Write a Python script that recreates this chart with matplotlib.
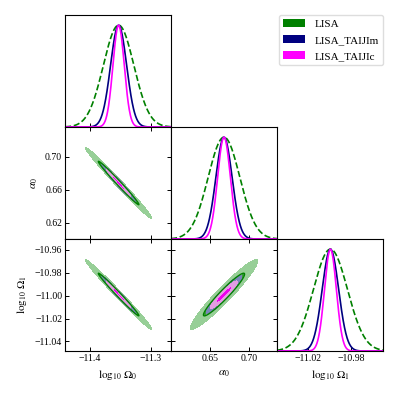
import numpy as np
import matplotlib
matplotlib.use('Agg')
import matplotlib.pyplot as plt
from matplotlib.patches import Patch

plt.rcParams['font.family'] = ['Liberation Serif', 'DejaVu Serif']
plt.rcParams['mathtext.fontset'] = 'stix'

# parameters and plot ranges
labels = [r'$\log_{10}\,\Omega_0$', r'$\alpha_0$', r'$\log_{10}\,\Omega_1$']
limits = [(-11.441, -11.267), (0.600, 0.736), (-11.0484, -10.9504)]
xticks = [[-11.4, -11.3], [0.65, 0.70], [-11.02, -10.98]]
yticks = [None, [0.62, 0.66, 0.70], [-10.96, -10.98, -11.00, -11.02, -11.04]]
xticklabels = [['−11.4', '−11.3'], ['0.65', '0.70'], ['−11.02', '−10.98']]
yticklabels = [None, ['0.62', '0.66', '0.70'], ['−10.96', '−10.98', '−11.00', '−11.02', '−11.04']]

names = ['LISA', 'LISA_TAIJIm', 'LISA_TAIJIc']
line_colors = ['#008000', '#000080', '#ff00ff']
line_styles = ['--', '-', '-']
fill_outer = ['#97cf97', '#7a86b8', '#e49ce4']
fill_inner = ['#3d9b3d', '#4a58a4', '#ee00ee']

centers = [-11.353, 0.668, -10.999]
sig1d = {
    'LISA': [0.0250, 0.0203, 0.0157],
    'LISA_TAIJIm': [0.0132, 0.0104, 0.0076],
    'LISA_TAIJIc': [0.0093, 0.0082, 0.0055],
}
sig2d = {
    'LISA': [0.0220, 0.0174, 0.0123],
    'LISA_TAIJIm': [0.0116, 0.0092, 0.0067],
    'LISA_TAIJIc': [0.0082, 0.0070, 0.0048],
}
# correlation coefficients for the three 2D panels
corr = {
    'LISA': {(1, 0): -0.990, (2, 0): -0.990, (2, 1): 0.955},
    'LISA_TAIJIm': {(1, 0): -0.980, (2, 0): -0.980, (2, 1): 0.94},
    'LISA_TAIJIc': {(1, 0): -0.975, (2, 0): -0.975, (2, 1): 0.93},
}

chi2_levels = [0, 2.30, 6.18]

fig = plt.figure(figsize=(3.99, 3.99), dpi=100)
W = 399.0
col_left = [65, 171, 277]
row_top = [15, 127, 239]
aw, ah = 106, 112

def make_ax(r, c):
    return fig.add_axes([col_left[c] / W, 1 - (row_top[r] + ah) / W, aw / W, ah / W])

for r in range(3):
    for c in range(r + 1):
        ax = make_ax(r, c)
        ax.tick_params(direction='in', length=3, width=0.7, labelsize=7, pad=2)
        if r == c:
            x = np.linspace(limits[c][0], limits[c][1], 400)
            for k, n in enumerate(names):
                s = sig1d[n][c]
                y = np.exp(-0.5 * ((x - centers[c]) / s) ** 2)
                ax.plot(x, y, color=line_colors[k], ls=line_styles[k], lw=1.2)
            ax.set_ylim(0, 1.1)
            ax.set_yticks([])
            ax.tick_params(top=False, right=False)
        else:
            x = np.linspace(limits[c][0], limits[c][1], 400)
            y = np.linspace(limits[r][0], limits[r][1], 400)
            X, Y = np.meshgrid(x, y)
            for k, n in enumerate(names):
                rho = corr[n][(r, c)]
                sx, sy = sig2d[n][c], sig2d[n][r]
                dx = (X - centers[c]) / sx
                dy = (Y - centers[r]) / sy
                d2 = (dx ** 2 - 2 * rho * dx * dy + dy ** 2) / (1 - rho ** 2)
                ax.contourf(X, Y, d2, levels=chi2_levels, colors=[fill_inner[k], fill_outer[k]])
                if k == 0:
                    ax.contour(X, Y, d2, levels=[2.30], colors=[line_colors[k]], linewidths=1.0)
            ax.set_ylim(limits[r])
            ax.set_yticks(yticks[r])
            ax.tick_params(top=True, right=True)
            if c == 0:
                ax.set_yticklabels(yticklabels[r])
                ax.set_ylabel(labels[r], fontsize=8)
            else:
                ax.set_yticklabels([])
        ax.set_xlim(limits[c])
        ax.set_xticks(xticks[c])
        if r == 2:
            ax.set_xticklabels(xticklabels[c])
            ax.set_xlabel(labels[c], fontsize=8)
        else:
            ax.set_xticklabels([])
        for sp in ax.spines.values():
            sp.set_linewidth(0.8)

handles = [Patch(facecolor=line_colors[k], label=names[k]) for k in range(3)]
leg = fig.legend(handles=handles, loc='upper right', bbox_to_anchor=(383 / W, 1 - 15 / W),
                 fontsize=8, handlelength=2.0, handleheight=0.7, borderaxespad=0.0,
                 labelspacing=0.55, framealpha=1.0)
leg.get_frame().set_edgecolor('#dddddd')

fig.savefig('out.png', dpi=100)
